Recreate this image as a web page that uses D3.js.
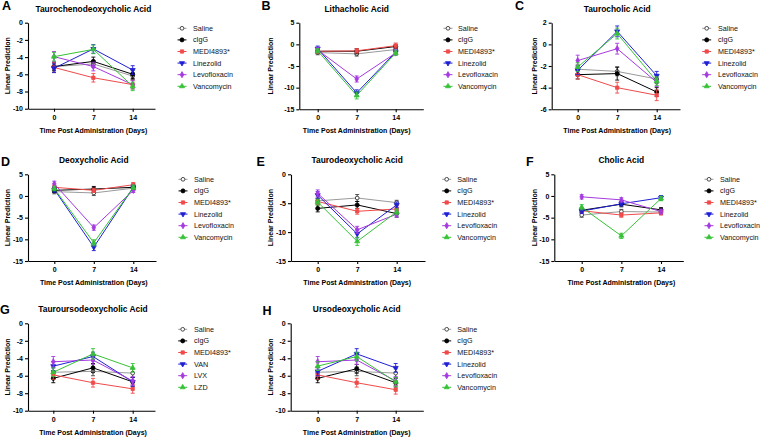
<!DOCTYPE html>
<html><head><meta charset="utf-8">
<script src="https://cdn.jsdelivr.net/npm/d3@7"></script>
<style>
body{margin:0;background:#fff}
svg text{font-family:"Liberation Sans",Arial,sans-serif}
</style>
</head><body>
<svg id="chart" width="760" height="437"></svg>
<script>
// ---------------- DATA ----------------
const days = [0, 7, 14];
const groupNames = ["Saline", "cIgG", "MEDI4893*", "Linezolid", "Levofloxacin", "Vancomycin"];
const groupNamesG = ["Saline", "cIgG", "MEDI4893*", "VAN", "LVX", "LZD"];
const panelLetters = ["A", "B", "C", "D", "E", "F", "G", "H"];
const panelTitles = ["Taurochenodeoxycholic Acid", "Lithacholic Acid", "Taurocholic Acid",
  "Deoxycholic Acid", "Taurodeoxycholic Acid", "Cholic Acid",
  "Tauroursodeoxycholic Acid", "Ursodeoxycholic Acid"];
const yDomains = [[-10, 0], [-15, 5], [-6, 2], [-15, 5], [-15, 0], [-15, 5], [-10, 0], [-10, 0]];
const yTickSteps = [2, 5, 2, 5, 5, 5, 2, 2];

// rows: Saline, cIgG, MEDI4893*, Linezolid, Levofloxacin, Vancomycin ; cols: day 0, 7, 14
const valuesA = [[-5.1, -4.8, -6.2], [-5.1, -4.5, -6.0], [-5.2, -6.4, -7.2], [-5.3, -3.05, -5.5], [-3.95, -5.1, -7.2], [-3.95, -3.1, -7.4]];
const errorsA = [[0.4, 0.4, 0.4], [0.5, 0.5, 0.5], [0.6, 0.5, 0.5], [0.5, 0.5, 0.5], [0.6, 0.5, 0.5], [0.5, 0.5, 0.5]];
const valuesB = [[-1.9, -2.2, -1.2], [-1.6, -1.6, -0.5], [-1.6, -1.5, -0.3], [-1.0, -11.2, -1.8], [-1.3, -8.0, -2.0], [-1.5, -11.8, -2.0]];
const errorsB = [[0.5, 0.5, 0.5], [0.5, 0.6, 0.5], [0.5, 0.5, 0.6], [0.6, 0.7, 0.5], [0.5, 0.7, 0.5], [0.5, 0.8, 0.5]];
const valuesC = [[-2.3, -2.5, -3.2], [-2.8, -2.7, -4.4], [-2.8, -4.0, -4.7], [-2.4, 1.2, -2.9], [-1.5, -0.4, -3.5], [-2.1, 1.0, -3.4]];
const errorsC = [[0.4, 0.4, 0.4], [0.4, 0.6, 0.4], [0.4, 0.5, 0.5], [0.4, 0.5, 0.4], [0.5, 0.5, 0.4], [0.4, 0.5, 0.4]];
const valuesD = [[1.0, 0.7, 1.8], [1.3, 1.6, 2.0], [2.0, 1.3, 2.6], [1.5, -11.8, 2.0], [2.8, -7.3, 1.3], [1.7, -10.8, 2.0]];
const errorsD = [[0.5, 0.6, 0.5], [0.5, 0.6, 0.5], [0.5, 0.5, 0.5], [0.6, 0.8, 0.5], [0.6, 0.6, 0.5], [0.5, 0.7, 0.5]];
const valuesE = [[-4.6, -4.1, -4.9], [-5.9, -5.3, -6.8], [-4.7, -6.4, -6.0], [-3.6, -10.3, -5.3], [-3.3, -9.6, -6.9], [-4.8, -11.6, -6.5]];
const errorsE = [[0.5, 0.6, 0.4], [0.6, 0.6, 0.6], [0.5, 0.5, 0.5], [0.6, 0.7, 0.5], [0.6, 0.6, 0.5], [0.5, 0.7, 0.5]];
const valuesF = [[-4.4, -3.6, -3.7], [-3.3, -1.9, -3.2], [-3.4, -4.4, -3.9], [-3.5, -1.8, -0.4], [-0.2, -0.9, -3.6], [-2.6, -9.2, -0.6]];
const errorsF = [[0.5, 0.5, 0.5], [0.5, 0.6, 0.5], [0.5, 0.5, 0.5], [0.5, 0.5, 0.5], [0.5, 0.5, 0.5], [0.6, 0.6, 0.5]];
const valuesG = [[-5.6, -5.5, -5.7], [-6.3, -5.1, -6.7], [-5.9, -6.8, -7.5], [-4.9, -3.8, -6.7], [-4.4, -4.2, -6.6], [-5.6, -3.5, -5.1]];
const errorsG = [[0.5, 0.5, 0.5], [0.5, 0.5, 0.5], [0.5, 0.5, 0.5], [0.5, 0.5, 0.5], [0.6, 0.5, 0.5], [0.5, 0.6, 0.5]];
const valuesH = [[-5.6, -5.5, -5.7], [-6.3, -5.2, -6.8], [-5.9, -6.8, -7.6], [-5.5, -3.5, -5.1], [-4.4, -4.2, -6.6], [-4.9, -3.8, -6.7]];
const errorsH = [[0.5, 0.5, 0.5], [0.5, 0.5, 0.5], [0.5, 0.5, 0.5], [0.5, 0.6, 0.5], [0.6, 0.5, 0.5], [0.5, 0.5, 0.5]];

const allValues = [valuesA, valuesB, valuesC, valuesD, valuesE, valuesF, valuesG, valuesH];
const allErrors = [errorsA, errorsB, errorsC, errorsD, errorsE, errorsF, errorsG, errorsH];
const allNames = [groupNames, groupNames, groupNames, groupNames, groupNames, groupNames, groupNamesG, groupNames];

// ---------------- LAYOUT / STYLE ----------------
const layout = [
  {axL: 28,    axR: 155,   x0: 54,    x14: 132.7, top: 22.7,  bot: 108.7, yLab: 7.3,   lx: 2,     lyB: 10,    legSym: 182,   legTx: 193,   legY: 28.3},
  {axL: 299.3, axR: 423.3, x0: 317.7, x14: 395.7, top: 22.7,  bot: 109.3, yLab: 270.7, lx: 261.5, lyB: 10,    legSym: 448,   legTx: 458,   legY: 28.3},
  {axL: 551.7, axR: 680,   x0: 577.7, x14: 656.7, top: 22.7,  bot: 109.3, yLab: 534.3, lx: 515,   lyB: 10,    legSym: 706.7, legTx: 718,   legY: 28.3},
  {axL: 28,    axR: 156,   x0: 54.3,  x14: 133.3, top: 174.3, bot: 261,   yLab: 7.3,   lx: 1,     lyB: 165.5, legSym: 183,   legTx: 194,   legY: 179.3},
  {axL: 291,   axR: 425,   x0: 317.7, x14: 396.7, top: 174.3, bot: 261,   yLab: 270,   lx: 256.5, lyB: 165.5, legSym: 446.7, legTx: 457.3, legY: 179.3},
  {axL: 554.3, axR: 683.3, x0: 581.7, x14: 661,   top: 174.3, bot: 261,   yLab: 534,   lx: 526,   lyB: 165.5, legSym: 709,   legTx: 720,   legY: 179.3},
  {axL: 28,    axR: 155,   x0: 53.3,  x14: 132.7, top: 323.3, bot: 410.7, yLab: 7.3,   lx: 0,     lyB: 314,   legSym: 182.7, legTx: 194,   legY: 329.3},
  {axL: 290.7, axR: 423.3, x0: 317.7, x14: 395.7, top: 323.3, bot: 410.7, yLab: 270,   lx: 262.5, lyB: 315,   legSym: 446.7, legTx: 457.3, legY: 329.3}
];
const legStep = 11.6;

// style per series position (Saline, cIgG, MEDI, blue, purple, green)
const styles = [
  {line: "#9a9a9a", err: "#444", sym: d3.symbolCircle, size: 11, fill: "#fff", stroke: "#222"},
  {line: "#000",    err: "#000", sym: d3.symbolCircle, size: 13, fill: "#000", stroke: "#000"},
  {line: "#f04a4a", err: "#f04a4a", sym: d3.symbolSquare, size: 11, fill: "#f04a4a", stroke: "#f04a4a"},
  {line: "#1f1fd6", err: "#1f1fd6", sym: d3.symbolTriangle, size: 11, fill: "#1f1fd6", stroke: "#1f1fd6", rot: 180},
  {line: "#a53ae0", err: "#a53ae0", sym: d3.symbolDiamond, size: 11, fill: "#a53ae0", stroke: "#a53ae0"},
  {line: "#36c236", err: "#36c236", sym: d3.symbolTriangle, size: 11, fill: "#36c236", stroke: "#36c236"}
];
// G panel uses VAN=blue, LVX=purple, LZD=green: same ordering of styles

const svg = d3.select("#chart");

layout.forEach((L, p) => {
  const g = svg.append("g");
  const vals = allValues[p], errs = allErrors[p], names = allNames[p];
  const xs = d3.scaleLinear().domain([0, 14]).range([L.x0, L.x14]);
  const xFull = d3.scaleLinear().domain([xs.invert(L.axL), xs.invert(L.axR)]).range([L.axL, L.axR]);
  const [ymin, ymax] = yDomains[p];
  const ys = d3.scaleLinear().domain([ymin, ymax]).range([L.bot, L.top]);
  const yt = d3.range(ymin, ymax + 0.001, yTickSteps[p]);

  // axes
  const ya = g.append("g").attr("transform", `translate(${L.axL},0)`)
    .call(d3.axisLeft(ys).tickValues(yt).tickSize(3).tickSizeOuter(0).tickPadding(2).tickFormat(d => String(d)));
  const xa = g.append("g").attr("transform", `translate(0,${L.bot})`)
    .call(d3.axisBottom(xFull).tickValues(days).tickSize(3).tickSizeOuter(0).tickPadding(3).tickFormat(d => String(d)));
  [ya, xa].forEach(a => {
    a.selectAll("path,line").attr("stroke", "#000").attr("stroke-width", 1.1);
    a.selectAll("text").attr("font-size", 7).attr("font-weight", "bold").attr("fill", "#000");
  });

  // panel letter
  g.append("text").attr("x", L.lx).attr("y", L.lyB).text(panelLetters[p])
    .attr("font-size", 12.5).attr("font-weight", "bold");
  // title
  g.append("text").attr("x", xs(7)).attr("y", L.top - 11).attr("text-anchor", "middle")
    .text(panelTitles[p]).attr("font-size", 8.4).attr("font-weight", "bold");
  // y label
  g.append("text").attr("transform", `translate(${L.yLab},${(L.top + L.bot) / 2}) rotate(-90)`)
    .attr("text-anchor", "middle").attr("dominant-baseline", "central")
    .text("Linear Prediction").attr("font-size", 7).attr("font-weight", "bold");
  // x label
  g.append("text").attr("x", xs(7)).attr("y", L.bot + 24).attr("text-anchor", "middle")
    .text("Time Post Administration (Days)").attr("font-size", 7).attr("font-weight", "bold");

  const line = d3.line().x((d, i) => xs(days[i])).y(d => ys(d));

  // lines
  vals.forEach((row, s) => {
    g.append("path").attr("d", line(row)).attr("fill", "none")
      .attr("stroke", styles[s].line).attr("stroke-width", 1);
  });
  // error bars + markers
  vals.forEach((row, s) => {
    const st = styles[s];
    row.forEach((v, i) => {
      const x = xs(days[i]), e = errs[s][i];
      const y1 = ys(v + e), y2 = ys(v - e);
      g.append("line").attr("x1", x).attr("x2", x).attr("y1", y1).attr("y2", y2)
        .attr("stroke", st.err).attr("stroke-width", 0.9);
      [y1, y2].forEach(yy => g.append("line").attr("x1", x - 2).attr("x2", x + 2)
        .attr("y1", yy).attr("y2", yy).attr("stroke", st.err).attr("stroke-width", 0.9));
      g.append("path").attr("d", d3.symbol(st.sym, st.size)())
        .attr("transform", `translate(${x},${ys(v)}) rotate(${st.rot || 0})`)
        .attr("fill", st.fill).attr("stroke", st.stroke).attr("stroke-width", 0.8);
    });
  });

  // legend
  names.forEach((n, s) => {
    const st = styles[s];
    const yy = L.legY + s * legStep;
    g.append("line").attr("x1", L.legSym - 4.5).attr("x2", L.legSym + 4.5)
      .attr("y1", yy).attr("y2", yy).attr("stroke", st.line).attr("stroke-width", 1);
    g.append("path").attr("d", d3.symbol(st.sym, st.size)())
      .attr("transform", `translate(${L.legSym},${yy}) rotate(${st.rot || 0})`)
      .attr("fill", st.fill).attr("stroke", st.stroke).attr("stroke-width", 0.8);
    g.append("text").attr("x", L.legTx).attr("y", yy).attr("dominant-baseline", "central")
      .text(n).attr("font-size", 7.2).attr("fill", "#111");
  });
});
</script>
</body></html>
